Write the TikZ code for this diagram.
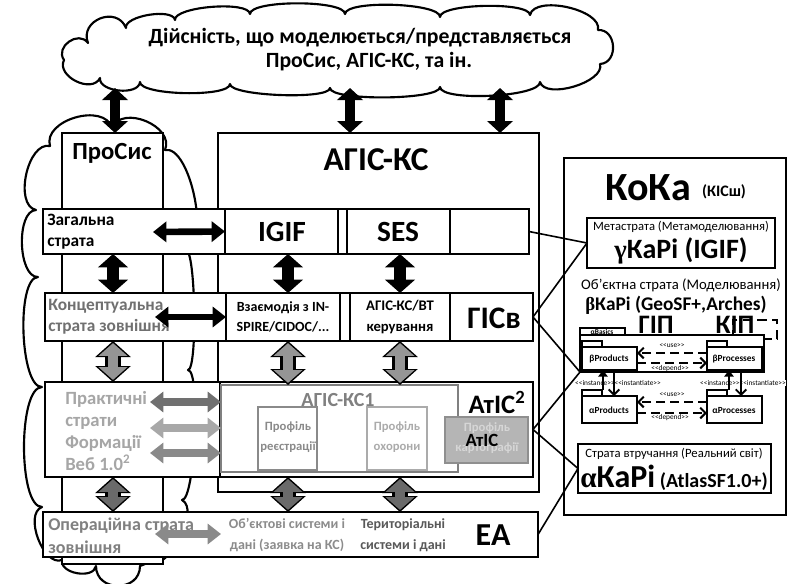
\documentclass[tikz,border=0pt]{standalone}
\usepackage{fontspec}
\setmainfont{Carlito}
\newfontfamily\grk{Liberation Serif}
\usetikzlibrary{arrows.meta,calc}
\definecolor{tkonc}{HTML}{707070}
\definecolor{tprak}{HTML}{A6A6A6}
\definecolor{toper}{HTML}{808080}
\definecolor{tobj}{HTML}{8C8C8C}
\definecolor{tter}{HTML}{595959}
\definecolor{tagis}{HTML}{808080}
\definecolor{treg}{HTML}{8A8A8A}
\definecolor{tokh}{HTML}{ABABAB}
\definecolor{aDark}{HTML}{707070}
\definecolor{aLight}{HTML}{A8A8A8}
\definecolor{aMid}{HTML}{8A8A8A}
\definecolor{aFill}{HTML}{959595}
\definecolor{aFillD}{HTML}{6A6A6A}
\definecolor{kfill}{HTML}{B5B5B5}
\definecolor{kline}{HTML}{8F8F8F}
\definecolor{ktext}{HTML}{D6D6D6}
\newcommand\fs[2]{\fontsize{#1}{#2}\selectfont}
\newcommand\bx[6]{\node[#6, anchor=north west, inner sep=0pt, outer sep=0pt,
  minimum width={(#4-#2)*0.75pt}, minimum height={(#5-#3)*0.75pt}] (#1) at (#2,#3) {};}
\tikzset{
  bl/.style={draw=black, line width=1.4pt, fill=white},
  pkg/.style={draw=black, line width=1.3pt, fill=white},
  cloudline/.style={draw=black, line width=1.6pt, fill=white, line join=round},
  lobe/.style n args={3}{insert path={.. controls ($(#1)!#3!90:(#2)$) and ($(#2)!#3!-90:(#1)$) .. (#2)}},
  topar/.style={line width=7pt, {Triangle[length=9pt,width=19pt]}-{Triangle[length=9pt,width=19pt]}},
  hbar/.style={line width=5pt, {Triangle[length=10pt,width=15pt]}-{Triangle[length=10pt,width=15pt]}},
  vbar/.style={line width=9pt, {Triangle[length=10pt,width=22pt]}-{Triangle[length=10pt,width=22pt]}},
  vbarout/.style={line width=11.5pt, {Triangle[length=12pt,width=26pt]}-{Triangle[length=12pt,width=26pt]}},
  vbarin/.style={line width=8pt, shorten <=1.6pt, shorten >=1.6pt, {Triangle[length=9.5pt,width=21pt]}-{Triangle[length=9.5pt,width=21pt]}},
  conn/.style={draw=black, line width=1.2pt},
  umlar/.style={line width=1.5pt, dash pattern=on 7pt off 3.5pt, -{Straight Barb[length=4pt,width=8pt]}},
  tiny/.style={font=\fs{5.5}{6}, inner sep=0pt},
  rowtxt/.style={font=\bfseries\fs{13}{16}, align=left, anchor=west, inner sep=0pt},
}
\newcommand\grayarrow[3]{\draw[vbarout, draw=black] (#1) -- (#2); \draw[vbarin, draw=#3] (#1) -- (#2);}
\begin{document}
\begin{tikzpicture}[x=0.75pt,y=-0.75pt]
\useasboundingbox (0,0) rectangle (795,583);
% top cloud
\coordinate (wA) at (88,43);  \coordinate (wB) at (126,28); \coordinate (wC) at (175,20);
\coordinate (wD) at (250,14); \coordinate (wE) at (345,14); \coordinate (wF) at (440,17);
\coordinate (wG) at (530,15); \coordinate (wH) at (598,30); \coordinate (wI) at (600,64);
\coordinate (wJ) at (540,82); \coordinate (wK) at (440,87); \coordinate (wL) at (330,88);
\coordinate (wM) at (230,84); \coordinate (wN) at (140,82); \coordinate (wO) at (100,78);
\coordinate (wP) at (64,60);
\draw[cloudline] (wA) [lobe={wA}{wB}{0.6}] [lobe={wB}{wC}{0.25}] [lobe={wC}{wD}{0.18}]
  [lobe={wD}{wE}{0.15}] [lobe={wE}{wF}{0.15}] [lobe={wF}{wG}{0.15}] [lobe={wG}{wH}{0.3}]
  [lobe={wH}{wI}{0.55}] [lobe={wI}{wJ}{0.3}] [lobe={wJ}{wK}{0.15}] [lobe={wK}{wL}{0.12}]
  [lobe={wL}{wM}{0.12}] [lobe={wM}{wN}{0.15}] [lobe={wN}{wO}{0.35}] [lobe={wO}{wP}{0.45}]
  [lobe={wP}{wA}{0.55}] -- cycle;
\node[font=\bfseries\fs{16.3}{19}, inner sep=0pt] (wt1) at (360,38) {Дійсність, що моделюється/представляється};
\node[font=\bfseries\fs{16.3}{19}, inner sep=0pt] (wt2) at (369,62) {ПроСис, АГІС-КС, та ін.};
% left cloud
\coordinate (lT1) at (50,146);  \coordinate (lT2) at (112,128); \coordinate (lT3) at (165,150);
\coordinate (lR1) at (186,250); \coordinate (lR2) at (188,370); \coordinate (lR3) at (182,500);
\coordinate (lR4) at (150,562); \coordinate (lB1) at (140,566); \coordinate (lB2) at (96,566);
\coordinate (lB3) at (62,560);  \coordinate (lL1) at (42,507);  \coordinate (lL2) at (42,387);
\coordinate (lL3) at (38,277);  \coordinate (lL4) at (36,210);
\draw[cloudline] (lT1) [lobe={lT1}{lT2}{0.42}] [lobe={lT2}{lT3}{0.45}] [lobe={lT3}{lR1}{0.25}]
  [lobe={lR1}{lR2}{0.08}] [lobe={lR2}{lR3}{0.1}] [lobe={lR3}{lR4}{0.3}] -- (lB1)
  [lobe={lB1}{lB2}{0.6}] [lobe={lB2}{lB3}{0.4}] [lobe={lB3}{lL1}{0.35}] [lobe={lL1}{lL2}{0.2}]
  [lobe={lL2}{lL3}{0.2}] [lobe={lL3}{lL4}{0.3}] [lobe={lL4}{lT1}{0.35}] -- cycle;
% columns
\bx{prosys}{62}{133}{163}{564}{bl}
\node[font=\bfseries\fs{18.5}{22}, inner sep=0pt] (prosyst) at (112,153) {ПроСис};
\bx{agis}{218}{133}{539}{492}{bl}
\node[font=\bfseries\fs{25}{28}, inner sep=0pt] (agist) at (376,160) {АГІС-КС};
\bx{koka}{564}{158}{786}{515}{bl}
% top arrows
\coordinate (c1) at (115,88); \coordinate (c2) at (350,88); \coordinate (c3) at (500,88);
\draw[topar] (c1) -- (prosys.north -| c1);
\draw[topar] (c2) -- (agis.north -| c2);
\draw[topar] (c3) -- (agis.north -| c3);
% row 1
\bx{zag}{43}{209}{225}{254}{bl}
\bx{igif}{225}{209}{338}{254}{bl}
\bx{gap1}{338}{209}{347}{254}{bl}
\bx{ses}{347}{209}{450}{254}{bl}
\bx{blank1}{450}{209}{529}{254}{bl}
\node[rowtxt] (zagt) at (47,232) {Загальна\\страта};
\node[font=\bfseries\fs{22}{26}, inner sep=0pt] (igift) at (282,232) {IGIF};
\node[font=\bfseries\fs{22}{26}, inner sep=0pt] (sest) at (398,232) {SES};
% row 2
\bx{konc}{45}{293}{226}{341}{bl}
\bx{vzaem}{226}{293}{340}{341}{bl}
\bx{gap2}{340}{293}{350}{341}{bl}
\bx{vt}{350}{293}{450}{341}{bl}
\bx{gisv}{450}{293}{533}{341}{bl}
\node[rowtxt, text=tkonc] (konct) at (48,317) {Концептуальна\\страта зовнішня};
\node[font=\bfseries\fs{10.5}{15}, align=center, inner sep=0pt] (vzaemt) at (283,317) {Взаємодія з IN-\\SPIRE/CIDOC/...};
\node[font=\bfseries\fs{11}{15.5}, align=center, inner sep=0pt] (vtt) at (400,317) {АГІС-КС/ВТ\\керування};
\node[font=\bfseries\fs{23.5}{26}, inner sep=0pt] (gisvt) at (494,318) {ГІСв};
% row 3
\bx{atis}{45}{382}{533}{477}{bl}
\bx{prak}{45}{382}{220}{477}{bl}
\node[rowtxt, text=tprak, font=\bfseries\fs{14}{16.5}] (prakt) at (65,431) {Практичні\\страти\\Формації\\Веб 1.0\textsuperscript{2}};
\bx{agis1}{221}{385}{458}{472}{draw=tagis, line width=2.2pt, fill=white}
\node[font=\bfseries\fs{15}{18}, text=tagis, inner sep=0pt] (agis1t) at (338,400) {АГІС-КС1};
\bx{preg}{258}{407}{317}{470}{draw=treg, line width=1.8pt, fill=white}
\node[font=\bfseries\fs{9.5}{15.5}, text=treg, align=center, inner sep=0pt] (pregt) at (288,437) {Профіль\\реєстрації};
\bx{pokh}{367}{407}{427}{470}{draw=tokh, line width=1.8pt, fill=white}
\node[font=\bfseries\fs{9.5}{15.5}, text=tokh, align=center, inner sep=0pt] (pokht) at (397,437) {Профіль\\охорони};
\node[font=\bfseries\fs{20}{24}, inner sep=0pt] (atist) at (497,402) {АтIC\textsuperscript{2}};
\bx{pkart}{445}{417}{528}{463}{draw=kline, line width=2.2pt, fill=kfill}
\node[font=\bfseries\fs{9.5}{15.5}, text=ktext, align=center, inner sep=0pt] (pkartt) at (487,438) {Профіль\\картографії};
\node[font=\bfseries\fs{14}{16}, inner sep=0pt] (atis2t) at (482,440) {АтIC};
% row 4
\bx{ea}{43}{512}{538}{557}{bl}
\node[rowtxt, text=toper, font=\bfseries\fs{13.5}{17.5}] (opert) at (48,536) {Операційна страта\\зовнішня};
\node[font=\bfseries\fs{10.5}{15.5}, text=tobj, align=center, inner sep=0pt] (objt) at (287,535) {Об’єктові системи і\\дані (заявка на КС)};
\node[font=\bfseries\fs{10.5}{15.5}, text=tter, align=center, inner sep=0pt] (tert) at (403,535) {Територіальні\\системи і дані};
\node[font=\bfseries\fs{24}{26}, inner sep=0pt] (eat) at (493,535) {ЕА};
% horizontal arrows
\coordinate (h1a) at (153,232); \coordinate (h2a) at (155,317);
\draw[hbar] (h1a) -- (igif.west);
\draw[hbar] (h2a) -- (vzaem.west);
\coordinate (h3a) at (150,402); \coordinate (h4a) at (150,428);
\coordinate (h5a) at (150,453); \coordinate (h6a) at (155,534);
\draw[hbar, draw=aDark, line width=6pt] (h3a) -- (h3a -| agis1.west);
\draw[hbar, draw=aLight, line width=6pt] (h4a) -- (h4a -| agis1.west);
\draw[hbar, draw=aMid, line width=6pt] (h5a) -- (h5a -| agis1.west);
\draw[hbar, draw=aMid, line width=6pt] (h6a) -- (h6a -| agis1.west);
% vertical arrows
\coordinate (x1) at (113,0); \coordinate (x2) at (288,0); \coordinate (x3) at (400,0);
\draw[vbar] (zag.south -| x1) -- (konc.north -| x1);
\draw[vbar] (igif.south -| x2) -- (vzaem.north -| x2);
\draw[vbar] (ses.south -| x3) -- (vt.north -| x3);
\grayarrow{konc.south -| x1}{prak.north -| x1}{aFill}
\grayarrow{vzaem.south -| x2}{agis1.north -| x2}{aFill}
\grayarrow{vt.south -| x3}{agis1.north -| x3}{aFill}
\grayarrow{prak.south -| x1}{ea.north -| x1}{aFillD}
\grayarrow{atis.south -| x2}{ea.north -| x2}{aFillD}
\grayarrow{atis.south -| x3}{ea.north -| x3}{aFillD}
% KoKa content
\node[font=\bfseries\fs{30}{34}, inner sep=0pt] (kokat) at (648,188) {КоКа};
\node[font=\bfseries\fs{12}{14}, inner sep=0pt] (kisht) at (724,192) {(КІСш)};
\bx{meta}{587}{218}{775}{268}{bl}
\node[font=\fs{9.5}{11}, inner sep=0pt] (metat) at (681,227) {Метастрата (Метамоделювання)};
\node[font=\bfseries\fs{21}{24}, inner sep=0pt] (gkt) at (681,251) {{\grk\fs{20}{24}γ}КаРі (IGIF)};
\node[font=\fs{11}{13}, inner sep=0pt] (objst) at (681,285) {Об’єктна страта (Моделювання)};
\node[font=\bfseries\fs{14.5}{17}, inner sep=0pt] (bkt) at (676,305) {{\grk\fs{14}{17}β}КаРі (GeoSF+,Arches)};
\node[font=\bfseries\fs{20}{22}, inner sep=0pt] (gipt) at (656,325) {ГІП};
\bx{kipd}{733}{320}{777}{339}{draw=black, line width=1.5pt, dash pattern=on 7pt off 4pt}
\node[font=\bfseries\fs{20}{22}, inner sep=0pt] (kipt) at (735,325) {КІП};
% UML packages
\bx{basicstab}{580}{328}{625}{335}{pkg, line width=1.1pt}
\node[font=\bfseries\fs{5.5}{6}, inner sep=0pt] (basicst) at (602,331.5) {αBasics};
\bx{basics}{580}{335}{764}{372}{pkg}
\bx{bprodtab}{582}{341}{602}{347}{pkg, line width=1.1pt}
\bx{bprod}{582}{347}{637}{370}{pkg}
\node[font=\bfseries\fs{7}{8}, inner sep=0pt] (bprodt) at (609,359) {βProducts};
\bx{bproctab}{707}{341}{727}{347}{pkg, line width=1.1pt}
\bx{bproc}{707}{347}{762}{370}{pkg}
\node[font=\bfseries\fs{7}{8}, inner sep=0pt] (bproct) at (734,359) {βProcesses};
\bx{aprodtab}{582}{390}{602}{396}{pkg, line width=1.1pt}
\bx{aprod}{582}{396}{637}{423}{pkg}
\node[font=\bfseries\fs{7}{8}, inner sep=0pt] (aprodt) at (609,410) {αProducts};
\bx{aproctab}{707}{390}{727}{396}{pkg, line width=1.1pt}
\bx{aproc}{707}{396}{762}{423}{pkg}
\node[font=\bfseries\fs{7}{8}, inner sep=0pt] (aproct) at (734,410) {αProcesses};
\coordinate (u1) at (0,353); \coordinate (u2) at (0,363); \coordinate (u3) at (0,402); \coordinate (u4) at (0,413);
\draw[umlar] (bproc.west |- u1) -- (bprod.east |- u1);
\draw[umlar] (bprod.east |- u2) -- (bproc.west |- u2);
\draw[umlar] (aproc.west |- u3) -- (aprod.east |- u3);
\draw[umlar] (aprod.east |- u4) -- (aproc.west |- u4);
\node[tiny] (use1) at (672,346) {<{}<use>{}>};
\node[tiny] (dep1) at (670,369) {<{}<depend>{}>};
\node[tiny] (use2) at (672,395) {<{}<use>{}>};
\node[tiny] (dep2) at (670,418) {<{}<depend>{}>};
\node[tiny, fill=white] (inst1) at (618,383) {<{}<instance>{}><{}<instantiate>{}>};
\node[tiny, fill=white] (inst2) at (743,383) {<{}<instance>{}><{}<instantiate>{}>};
\coordinate (v1) at (603,0); \coordinate (v2) at (614,0); \coordinate (v3) at (729,0); \coordinate (v4) at (741,0);
\draw[line width=1.4pt, -{Triangle[length=5pt,width=7pt]}] (aprodtab.north -| v1) -- (bprod.south -| v1);
\draw[line width=1.4pt, -{Straight Barb[length=4pt,width=8pt]}] (bprod.south -| v2) -- (aprod.north -| v2);
\draw[line width=1.4pt, -{Triangle[length=5pt,width=7pt]}] (aproctab.north -| v3) -- (bproc.south -| v3);
\draw[line width=1.4pt, -{Straight Barb[length=4pt,width=8pt]}] (bproc.south -| v4) -- (aproc.north -| v4);
% real world stratum
\bx{alpha}{578}{444}{771}{493}{bl}
\node[font=\fs{9.5}{11}, inner sep=0pt] (alphat) at (674,454) {Страта втручання (Реальний світ)};
\node[font=\bfseries\fs{15}{18}, inner sep=0pt] (akt) at (674,478) {{\grk\fs{22}{24}α}{\fs{24}{26}КаРі} (AtlasSF1.0+)};
% connectors to KoKa
\draw[conn] (blank1.east) -- (meta.west);
\draw[conn] (gisv.east) -- (meta.west);
\draw[conn] (gisv.east) -- (basics.south west);
\draw[conn] (atis.east) -- (basics.south west);
\draw[conn] (atis.east) -- (alpha.west);
\draw[conn] (ea.east) -- (alpha.west);
\end{tikzpicture}
\end{document}
